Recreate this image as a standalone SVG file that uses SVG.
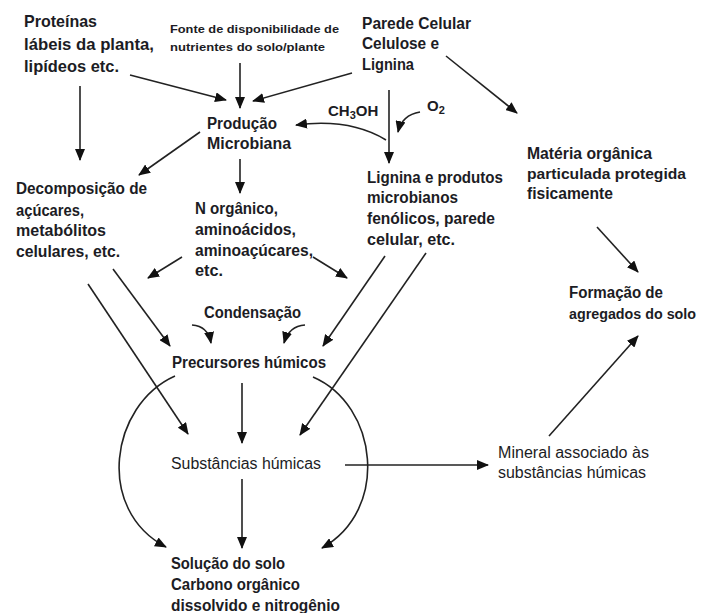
<svg xmlns="http://www.w3.org/2000/svg" width="701" height="613" viewBox="0 0 701 613">
  <style>
    .t { font-family: "Liberation Sans", Arial, sans-serif; font-size: 16px; font-weight: bold; fill: #1c1c24; }
    .r { font-weight: normal; }
    .s { font-size: 11px; }
    .m { font-size: 15px; }
    .n { font-size: 14px; }
    .l { font-size: 16.5px; }
    .c { fill: none; stroke: #222; stroke-width: 1.6; marker-end: url(#ah); }
  </style>
  <defs>
    <marker id="ah" viewBox="0 0 12 10" refX="11" refY="5" markerWidth="12" markerHeight="10" markerUnits="userSpaceOnUse" orient="auto">
      <path d="M0,0 L12,5 L0,10 z" fill="#111"/>
    </marker>
  </defs>
  <rect width="701" height="613" fill="#fff"/>

  <g id="connectors">
    <line class="c" x1="130" y1="75" x2="226" y2="100"/>
    <line class="c" x1="240" y1="63" x2="240" y2="108"/>
    <line class="c" x1="352" y1="73" x2="253" y2="101"/>
    <line class="c" x1="80" y1="86" x2="80" y2="160"/>
    <line class="c" x1="200" y1="132" x2="139" y2="175"/>
    <line class="c" x1="240" y1="159" x2="240" y2="193"/>
    <path class="c" d="M386,140 Q350,118 296,125"/>
    <line class="c" x1="389" y1="90" x2="389" y2="163"/>
    <path class="c" d="M420,112 Q402,115 398,132"/>
    <line class="c" x1="446" y1="56" x2="517" y2="113"/>
    <line class="c" x1="597" y1="227" x2="638" y2="272"/>
    <line class="c" x1="549" y1="436" x2="638" y2="336"/>
    <line class="c" x1="182" y1="257" x2="148" y2="278"/>
    <line class="c" x1="313" y1="257" x2="347" y2="278"/>
    <line class="c" x1="113" y1="269" x2="170" y2="346"/>
    <line class="c" x1="88" y1="284" x2="188" y2="434"/>
    <path class="c" d="M192,325 Q208,326 211,343"/>
    <path class="c" d="M305,325 Q289,326 284,343"/>
    <line class="c" x1="385" y1="256" x2="323" y2="346"/>
    <line class="c" x1="426" y1="253" x2="300" y2="435"/>
    <line class="c" x1="242" y1="383" x2="242" y2="443"/>
    <line class="c" x1="242" y1="479" x2="242" y2="548"/>
    <path class="c" d="M175,376 C110,405 95,510 166,547"/>
    <path class="c" d="M313,377 C378,405 390,510 322,548"/>
    <line class="c" x1="345" y1="465" x2="488" y2="465"/>
  </g>

  <g id="proteinas">
    <text class="t l" x="24" y="27" textLength="73" lengthAdjust="spacingAndGlyphs">Proteínas</text>
    <text class="t l" x="24" y="50" textLength="130" lengthAdjust="spacingAndGlyphs">lábeis da planta,</text>
    <text class="t l" x="24" y="72" textLength="95" lengthAdjust="spacingAndGlyphs">lipídeos etc.</text>
  </g>

  <g id="fonte">
    <text class="t s" x="170" y="33" textLength="169" lengthAdjust="spacingAndGlyphs">Fonte de disponibilidade de</text>
    <text class="t s" x="170" y="51" textLength="155" lengthAdjust="spacingAndGlyphs">nutrientes do solo/plante</text>
  </g>

  <g id="parede">
    <text class="t" x="362" y="29" textLength="109" lengthAdjust="spacingAndGlyphs">Parede Celular</text>
    <text class="t" x="362" y="49" textLength="77" lengthAdjust="spacingAndGlyphs">Celulose e</text>
    <text class="t" x="362" y="70" textLength="52" lengthAdjust="spacingAndGlyphs">Lignina</text>
  </g>

  <g id="producao">
    <text class="t" x="207" y="129" textLength="70" lengthAdjust="spacingAndGlyphs">Produção</text>
    <text class="t" x="207" y="149" textLength="84" lengthAdjust="spacingAndGlyphs">Microbiana</text>
  </g>

  <g id="ch3oh">
    <text class="t m" x="328" y="116">CH<tspan class="s" dy="3">3</tspan><tspan dy="-3">OH</tspan></text>
  </g>

  <g id="o2">
    <text class="t m" x="427" y="111">O<tspan class="s" dy="3">2</tspan></text>
  </g>

  <g id="lignina-produtos">
    <text class="t" x="367" y="183" textLength="136" lengthAdjust="spacingAndGlyphs">Lignina e produtos</text>
    <text class="t" x="367" y="203" textLength="91" lengthAdjust="spacingAndGlyphs">microbianos</text>
    <text class="t" x="367" y="224" textLength="128" lengthAdjust="spacingAndGlyphs">fenólicos, parede</text>
    <text class="t" x="367" y="245" textLength="88" lengthAdjust="spacingAndGlyphs">celular, etc.</text>
  </g>

  <g id="materia">
    <text class="t" x="527" y="159" textLength="125" lengthAdjust="spacingAndGlyphs">Matéria orgânica</text>
    <text class="t m" x="527" y="179" textLength="159" lengthAdjust="spacingAndGlyphs">particulada protegida</text>
    <text class="t" x="527" y="199" textLength="86" lengthAdjust="spacingAndGlyphs">fisicamente</text>
  </g>

  <g id="decomposicao">
    <text class="t" x="16" y="194" textLength="131" lengthAdjust="spacingAndGlyphs">Decomposição de</text>
    <text class="t" x="16" y="216" textLength="68" lengthAdjust="spacingAndGlyphs">açúcares,</text>
    <text class="t" x="16" y="236" textLength="90" lengthAdjust="spacingAndGlyphs">metabólitos</text>
    <text class="t" x="16" y="257" textLength="104" lengthAdjust="spacingAndGlyphs">celulares, etc.</text>
  </g>

  <g id="n-organico">
    <text class="t" x="195" y="214" textLength="83" lengthAdjust="spacingAndGlyphs">N orgânico,</text>
    <text class="t" x="195" y="235" textLength="101" lengthAdjust="spacingAndGlyphs">aminoácidos,</text>
    <text class="t" x="195" y="256" textLength="118" lengthAdjust="spacingAndGlyphs">aminoaçúcares,</text>
    <text class="t" x="195" y="276" textLength="28" lengthAdjust="spacingAndGlyphs">etc.</text>
  </g>

  <g id="condensacao">
    <text class="t" x="204" y="318" textLength="97" lengthAdjust="spacingAndGlyphs">Condensação</text>
  </g>

  <g id="precursores">
    <text class="t" x="172" y="368" textLength="154" lengthAdjust="spacingAndGlyphs">Precursores húmicos</text>
  </g>

  <g id="formacao">
    <text class="t" x="569" y="298" textLength="94" lengthAdjust="spacingAndGlyphs">Formação de</text>
    <text class="t n" x="569" y="319" textLength="127" lengthAdjust="spacingAndGlyphs">agregados do solo</text>
  </g>

  <g id="substancias">
    <text class="t r" x="171" y="469" textLength="150" lengthAdjust="spacingAndGlyphs">Substâncias húmicas</text>
  </g>

  <g id="mineral">
    <text class="t r" x="498" y="458" textLength="151" lengthAdjust="spacingAndGlyphs">Mineral associado às</text>
    <text class="t r" x="498" y="478" textLength="148" lengthAdjust="spacingAndGlyphs">substâncias húmicas</text>
  </g>

  <g id="solucao">
    <text class="t" x="171" y="569" textLength="114" lengthAdjust="spacingAndGlyphs">Solução do solo</text>
    <text class="t" x="171" y="590" textLength="129" lengthAdjust="spacingAndGlyphs">Carbono orgânico</text>
    <text class="t" x="171" y="611" textLength="169" lengthAdjust="spacingAndGlyphs">dissolvido e nitrogênio</text>
  </g>
</svg>
